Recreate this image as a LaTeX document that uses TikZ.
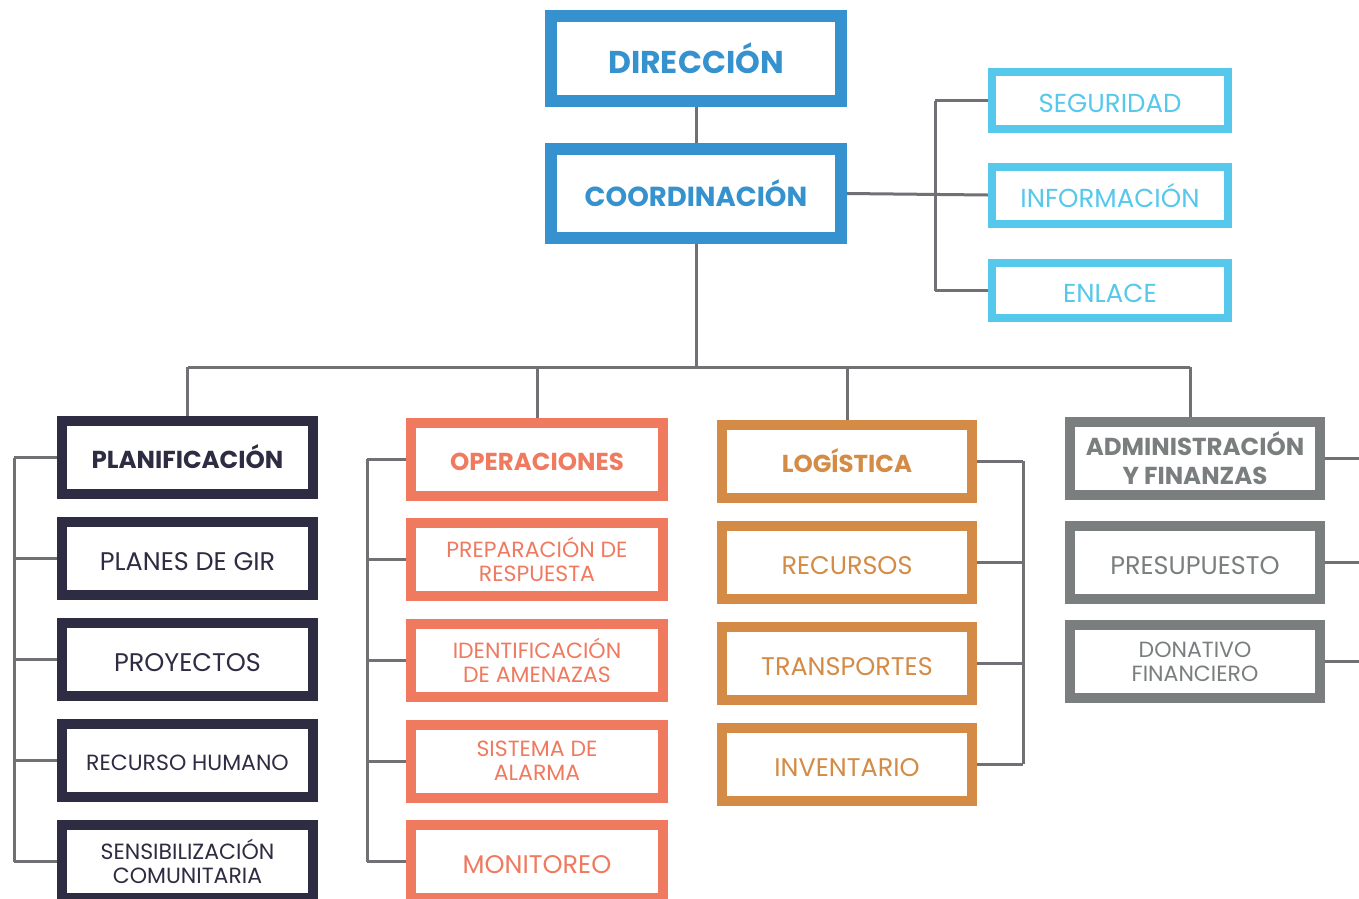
\documentclass[tikz,border=0pt]{standalone}
\usepackage{fontspec}
\setmainfont{Poppins}
\usetikzlibrary{backgrounds}
\definecolor{cBlue}{HTML}{3592CF}
\definecolor{cLBlue}{HTML}{56C8EC}
\definecolor{cNavy}{HTML}{2E2C42}
\definecolor{cSalmon}{HTML}{EF7A60}
\definecolor{cOrange}{HTML}{D38B45}
\definecolor{cGray}{HTML}{7A7E7F}
\definecolor{cLine}{HTML}{6F7175}
\tikzset{
  conn/.style={draw=cLine, line width=3pt},
  topbox/.style={draw=cBlue, line width=12pt, fill=white, minimum width=290pt, text=cBlue, inner sep=0pt, font=\bfseries\fontsize{31.5}{36}\selectfont},
  sidebox/.style={draw=cLBlue, line width=8pt, fill=white, minimum width=236pt, minimum height=57pt, text=cLBlue, inner sep=0pt, font=\fontsize{26}{30}\selectfont, text height=24pt, text depth=0pt},
  colbox/.style={line width=10pt, fill=white, minimum height=73pt, inner sep=0pt, align=center},
  navybox/.style={colbox, draw=cNavy, text=cNavy, minimum width=251pt},
  salmonbox/.style={colbox, draw=cSalmon, text=cSalmon, minimum width=252pt},
  orangebox/.style={colbox, draw=cOrange, text=cOrange, minimum width=250pt},
  graybox/.style={colbox, draw=cGray, text=cGray, minimum width=250pt},
  headtxt/.style={font=\bfseries\fontsize{24.5}{29}\selectfont},
  headone/.style={headtxt, text height=22pt, text depth=0pt},
  bigtxt/.style={font=\fontsize{25.5}{30}\selectfont, text height=24pt, text depth=0pt},
  smalltxt/.style={font=\fontsize{22}{24}\selectfont},
}
\begin{document}
\begin{tikzpicture}[x=1pt,y=-1pt]
\useasboundingbox (0,0) rectangle (1359,898);
% top
\node[topbox, minimum height=85pt] (dir) at (696,58.5) {DIRECCIÓN};
\node[topbox, minimum height=89pt, font=\bfseries\fontsize{27.5}{32}\selectfont] (coord) at (696,193.5) {COORDINACIÓN};
% side
\node[sidebox] (seg) at (1110,100.5) {SEGURIDAD};
\node[sidebox] (info) at (1110,195) {INFORMACIÓN};
\node[sidebox, minimum height=55pt] (enl) at (1110,290.5) {ENLACE};
% column 1
\node[navybox, headone] (plan) at (187.5,457.5) {PLANIFICACIÓN};
\node[navybox, bigtxt] (gir) at (187.5,558.5) {PLANES DE GIR};
\node[navybox, bigtxt] (proy) at (187.5,659.5) {PROYECTOS};
\node[navybox, smalltxt, text height=20pt, text depth=0pt] (rh) at (187.5,760.5) {RECURSO HUMANO};
\node[navybox, smalltxt] (sens) at (187.5,861.5) {SENSIBILIZACIÓN\\COMUNITARIA};
% column 2
\node[salmonbox, headone] (ops) at (537,459) {OPERACIONES};
\node[salmonbox, smalltxt] (prep) at (537,559) {PREPARACIÓN DE\\RESPUESTA};
\node[salmonbox, smalltxt] (ident) at (537,660) {IDENTIFICACIÓN\\DE AMENAZAS};
\node[salmonbox, smalltxt] (sist) at (537,761) {SISTEMA DE\\ALARMA};
\node[salmonbox, bigtxt] (mon) at (537,861.5) {MONITOREO};
% column 3
\node[orangebox, headone] (log) at (847,461) {LOGÍSTICA};
\node[orangebox, bigtxt] (rec) at (847,562.5) {RECURSOS};
\node[orangebox, bigtxt] (trans) at (847,663) {TRANSPORTES};
\node[orangebox, bigtxt] (inv) at (847,764) {INVENTARIO};
% column 4
\node[graybox, headtxt] (adm) at (1195,458) {ADMINISTRACIÓN\\Y FINANZAS};
\node[graybox, bigtxt] (pres) at (1195,562) {PRESUPUESTO};
\node[graybox, smalltxt] (don) at (1195,661.5) {DONATIVO\\FINANCIERO};
% connectors
\begin{scope}[on background layer]
\coordinate (busL) at (188,367);
\coordinate (busR) at (1190,367);
\coordinate (rb) at (935,0);
\coordinate (l1) at (14,0);
\coordinate (l2) at (367,0);
\coordinate (l3) at (1023,0);
\coordinate (l4) at (1359,0);
\draw[conn] (dir.south) -- (coord.north);
\draw[conn] (coord.south) -- (coord.south |- busL);
\draw[conn] (busL) -- (busR);
\draw[conn] (plan.north) -- (plan.north |- busL);
\draw[conn] (ops.north) -- (ops.north |- busL);
\draw[conn] (log.north) -- (log.north |- busL);
\draw[conn] ([xshift=-5pt]adm.north) -- ([xshift=-5pt]adm.north |- busL);
% side bracket
\draw[conn] (rb |- seg.west) -- (rb |- enl.west);
\draw[conn] (seg.west) -- (rb |- seg.west);
\draw[conn] (coord.east) -- (info.west);
\draw[conn] (enl.west) -- (rb |- enl.west);
% column 1 bracket
\draw[conn] (l1 |- plan.west) -- (l1 |- sens.west);
\foreach \n in {plan,gir,proy,rh,sens} \draw[conn] (\n.west) -- (l1 |- \n.west);
% column 2 bracket
\draw[conn] (l2 |- ops.west) -- (l2 |- mon.west);
\foreach \n in {ops,prep,ident,sist,mon} \draw[conn] (\n.west) -- (l2 |- \n.west);
% column 3 bracket
\draw[conn] (l3 |- log.east) -- (l3 |- inv.east);
\foreach \n in {log,rec,trans,inv} \draw[conn] (\n.east) -- (l3 |- \n.east);
% column 4 lines
\foreach \n in {adm,pres,don} \draw[conn] (\n.east) -- (l4 |- \n.east);
\end{scope}
\end{tikzpicture}
\end{document}
